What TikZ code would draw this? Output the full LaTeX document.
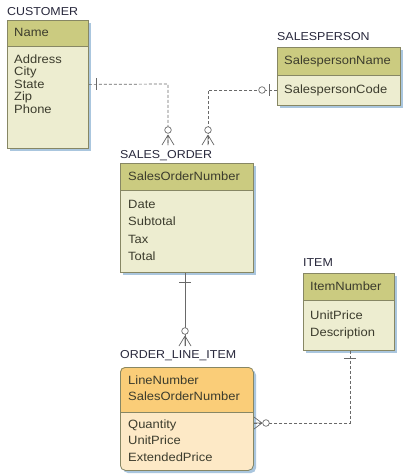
\documentclass[tikz,border=0pt]{standalone}
\usepackage{fontspec}
\setmainfont{Liberation Sans}[FakeStretch=1.08]
\definecolor{hdrg}{RGB}{203,203,128}
\definecolor{bodyg}{RGB}{237,237,208}
\definecolor{bord}{RGB}{135,135,100}
\definecolor{shad}{RGB}{170,198,222}
\definecolor{hdro}{RGB}{250,205,120}
\definecolor{bodyo}{RGB}{253,233,198}
\definecolor{txt}{RGB}{60,60,45}
\definecolor{lbl}{RGB}{40,40,60}
\definecolor{conn}{RGB}{105,105,105}
\begin{document}
\begin{tikzpicture}[x=1pt,y=-1pt,
  attr/.style={anchor=west,inner sep=0pt,text height=8.5pt,text depth=2.5pt,text=txt,font=\fontsize{12}{12}\selectfont},
  elabel/.style={anchor=west,inner sep=0pt,text height=8.5pt,text depth=2pt,text=lbl,font=\fontsize{11.5}{12}\selectfont},
  ent/.style={draw=bord,line width=0.8pt,inner sep=0pt,anchor=north west},
  conline/.style={draw=conn,line width=0.7pt},
  dashline/.style={conline,dash pattern=on 3pt off 2pt},
  relmark/.style={draw=conn,line width=0.7pt}
]
\useasboundingbox[fill=white] (0,0) rectangle (404,474);

% ---------- CUSTOMER ----------
\node[elabel] (custlbl) at (7,12) {CUSTOMER};
\fill[shad] (10,23) rectangle (91,151);
\fill[bodyg] (7,20) rectangle (88,148);
\fill[hdrg] (7,20) rectangle (88,46);
\draw[bord,line width=0.6pt] (7,46) -- (88,46);
\node[ent,minimum width=81pt,minimum height=128pt] (cust) at (7,20) {};
\node[attr] (c0) at (14,33) {Name};
\node[attr] (c1) at (14,60) {Address};
\node[attr] (c2) at (14,72.5) {City};
\node[attr] (c3) at (14,85) {State};
\node[attr] (c4) at (14,97.5) {Zip};
\node[attr] (c5) at (14,110) {Phone};

% ---------- SALESPERSON ----------
\node[elabel] (splbl) at (277,37) {SALESPERSON};
\fill[shad] (280,50) rectangle (403,108);
\fill[bodyg] (277,47) rectangle (400,105);
\fill[hdrg] (277,47) rectangle (400,75);
\draw[bord,line width=0.6pt] (277,75) -- (400,75);
\node[ent,minimum width=123pt,minimum height=58pt] (sp) at (277,47) {};
\node[attr] (s0) at (284,61) {SalespersonName};
\node[attr] (s1) at (284,90) {SalespersonCode};

% ---------- SALES_ORDER ----------
\node[elabel] (solbl) at (120,155) {SALES\_ORDER};
\fill[shad] (123,166) rectangle (256,275);
\fill[bodyg] (120,163) rectangle (253,272);
\fill[hdrg] (120,163) rectangle (253,190);
\draw[bord,line width=0.6pt] (120,190) -- (253,190);
\node[ent,minimum width=133pt,minimum height=109pt] (so) at (120,163) {};
\node[attr] (o0) at (128,177) {SalesOrderNumber};
\node[attr] (o1) at (128,205) {Date};
\node[attr] (o2) at (128,222) {Subtotal};
\node[attr] (o3) at (128,240) {Tax};
\node[attr] (o4) at (128,257) {Total};

% ---------- ITEM ----------
\node[elabel] (itlbl) at (303,263) {ITEM};
\fill[shad] (306,276) rectangle (397,353);
\fill[bodyg] (303,273) rectangle (394,350);
\fill[hdrg] (303,273) rectangle (394,300);
\draw[bord,line width=0.6pt] (303,300) -- (394,300);
\node[ent,minimum width=91pt,minimum height=77pt] (it) at (303,273) {};
\node[attr] (i0) at (310,287) {ItemNumber};
\node[attr] (i1) at (310,316) {UnitPrice};
\node[attr] (i2) at (310,333) {Description};

% ---------- ORDER_LINE_ITEM ----------
\node[elabel] (olilbl) at (120,355) {ORDER\_LINE\_ITEM};
\fill[shad,rounded corners=5pt] (123,370) rectangle (256,473);
\fill[bodyo,rounded corners=5pt] (120,367) rectangle (253,470);
\begin{scope}
  \clip[rounded corners=5pt] (120,367) rectangle (253,470);
  \fill[hdro] (120,367) rectangle (253,412);
\end{scope}
\draw[bord,line width=0.6pt] (120,412) -- (253,412);
\node[ent,rounded corners=5pt,minimum width=133pt,minimum height=103pt] (oli) at (120,367) {};
\node[attr] (l0) at (128,381) {LineNumber};
\node[attr] (l1) at (128,397) {SalesOrderNumber};
\node[attr] (l2) at (128,425) {Quantity};
\node[attr] (l3) at (128,441) {UnitPrice};
\node[attr] (l4) at (128,458) {ExtendedPrice};

% ---------- connectors ----------
% CUSTOMER -> SALES_ORDER
\coordinate (cb) at (168,84);
\coordinate (ce) at (168,145);
\draw[dashline] (cust.east) -- (cb) -- (ce);
\draw[relmark] (96,78) -- (96,90);
\draw[relmark,fill=white] (168,130) circle (3.3pt);
\draw[relmark] (168,135) -- (162,145) (168,135) -- (168,145) (168,135) -- (174,145);

% SALESPERSON -> SALES_ORDER
\coordinate (sb) at (208,90);
\coordinate (se) at (208,145);
\draw[dashline] (sp.west |- s1) -- (sb) -- (se);
\draw[relmark] (269,84) -- (269,96);
\draw[relmark,fill=white] (262,90) circle (3.3pt);
\draw[relmark,fill=white] (208,130) circle (3.3pt);
\draw[relmark] (208,135) -- (202,145) (208,135) -- (208,145) (208,135) -- (214,145);

% SALES_ORDER -> ORDER_LINE_ITEM
\coordinate (oe) at (185,346);
\draw[conline] (so.south -| oe) -- (oe);
\draw[relmark] (179,282) -- (191,282);
\draw[relmark,fill=white] (185,331) circle (3.3pt);
\draw[relmark] (185,336) -- (179,346) (185,336) -- (185,346) (185,336) -- (191,346);

% ITEM -> ORDER_LINE_ITEM
\coordinate (ib) at (350,423);
\draw[dashline] (it.south -| ib) -- (ib) -- (oli.east |- ib);
\draw[relmark] (344,358) -- (356,358);
\draw[relmark,fill=white] (266,423) circle (3.3pt);
\draw[relmark] (262,423) -- (254,417) (262,423) -- (254,423) (262,423) -- (254,429);
\end{tikzpicture}
\end{document}
